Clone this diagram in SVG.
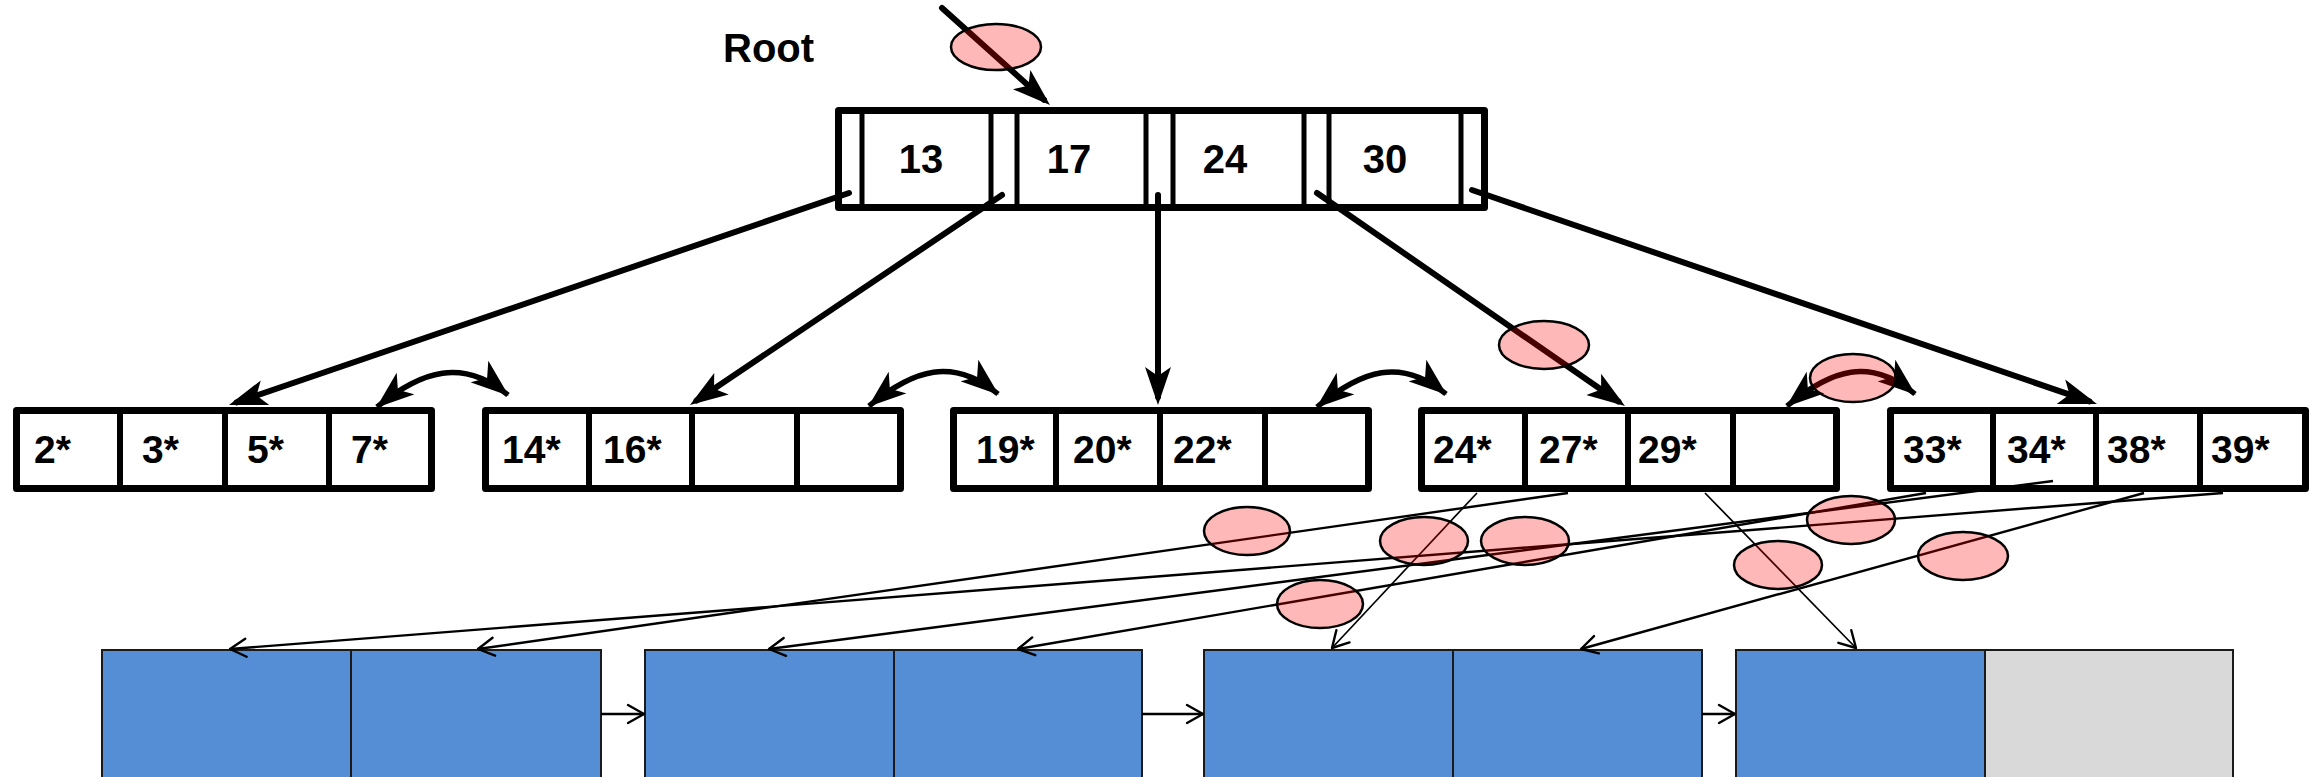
<svg xmlns="http://www.w3.org/2000/svg" width="2316" height="777" viewBox="0 0 2316 777">
<style>
  .node { fill: #fff; stroke: #000; stroke-width: 7; stroke-linejoin: round; }
  .div { stroke: #000; stroke-width: 6; }
  .rdiv { stroke: #000; stroke-width: 5; }
  .key { font-family: "Liberation Sans", Arial, sans-serif; font-weight: bold; font-size: 40px; fill: #000; }
  .lk { font-family: "Liberation Sans", Arial, sans-serif; font-weight: bold; font-size: 39px; fill: #000; }
  .label { font-family: "Liberation Sans", Arial, sans-serif; font-weight: bold; font-size: 40px; fill: #000; }
  .thick { fill: none; stroke: #000; stroke-width: 6; stroke-linecap: round; }
  .arc { fill: none; stroke: #000; stroke-width: 5.5; }
  .thin { fill: none; stroke: #000; stroke-width: 2.4; }
  .thinner { fill: none; stroke: #000; stroke-width: 1.7; }
  .blue { fill: #558ED5; stroke: #1a1a1a; stroke-width: 2; }
  .gray { fill: #D9D9D9; stroke: #1a1a1a; stroke-width: 2; }
  .mark { fill: #ff0000; fill-opacity: 0.28; stroke: #000; stroke-width: 2.5; }
</style>
<defs>
  <marker id="stealth" viewBox="0 0 38 26" refX="30" refY="13" markerWidth="38" markerHeight="26" markerUnits="userSpaceOnUse" orient="auto">
    <path d="M0,0 L38,13 L0,26 L9,13 Z" fill="#000"/>
  </marker>
  <marker id="stealthArc" viewBox="0 0 38 28" refX="37" refY="14" markerWidth="38" markerHeight="28" markerUnits="userSpaceOnUse" orient="auto-start-reverse">
    <path d="M0,0 L38,14 L0,28 L10,14 Z" fill="#000"/>
  </marker>
  <marker id="open" viewBox="-3 -3 22 24" refX="16" refY="9" markerWidth="22" markerHeight="24" markerUnits="userSpaceOnUse" orient="auto">
    <path d="M0,0 L16,9 L0,18" fill="none" stroke="#000" stroke-width="2.4" stroke-linejoin="round" stroke-linecap="round"/>
  </marker>
</defs>
<rect width="2316" height="777" fill="#fff"/>

<!-- data pages -->
<g id="data1">
  <rect class="blue" x="102" y="650" width="249" height="200"/>
  <rect class="blue" x="351" y="650" width="250" height="200"/>
</g>
<g id="data2">
  <rect class="blue" x="645" y="650" width="249" height="200"/>
  <rect class="blue" x="894" y="650" width="248" height="200"/>
</g>
<g id="data3">
  <rect class="blue" x="1204" y="650" width="249" height="200"/>
  <rect class="blue" x="1453" y="650" width="249" height="200"/>
</g>
<g id="data4">
  <rect class="blue" x="1736" y="650" width="249" height="200"/>
  <rect class="gray" x="1985" y="650" width="248" height="200"/>
</g>

<text class="label" x="723" y="62">Root</text>

<g id="root">
  <rect class="node" x="838.5" y="110.5" width="646" height="97"/>
  <line class="rdiv" x1="862" y1="110" x2="862" y2="208"/>
  <line class="rdiv" x1="991" y1="110" x2="991" y2="208"/>
  <line class="rdiv" x1="1017" y1="110" x2="1017" y2="208"/>
  <line class="rdiv" x1="1146" y1="110" x2="1146" y2="208"/>
  <line class="rdiv" x1="1173" y1="110" x2="1173" y2="208"/>
  <line class="rdiv" x1="1304" y1="110" x2="1304" y2="208"/>
  <line class="rdiv" x1="1329" y1="110" x2="1329" y2="208"/>
  <line class="rdiv" x1="1461" y1="110" x2="1461" y2="208"/>
  <text class="key" x="921" y="173" text-anchor="middle">13</text>
  <text class="key" x="1069" y="173" text-anchor="middle">17</text>
  <text class="key" x="1225" y="173" text-anchor="middle">24</text>
  <text class="key" x="1385" y="173" text-anchor="middle">30</text>
</g>

<g id="leaf1">
  <rect class="node" x="16.5" y="410.5" width="415" height="78"/>
  <line class="div" x1="120" y1="410" x2="120" y2="489"/>
  <line class="div" x1="225" y1="410" x2="225" y2="489"/>
  <line class="div" x1="329" y1="410" x2="329" y2="489"/>
  <text class="lk" x="34" y="463">2*</text>
  <text class="lk" x="142" y="463">3*</text>
  <text class="lk" x="247" y="463">5*</text>
  <text class="lk" x="351" y="463">7*</text>
</g>
<g id="leaf2">
  <rect class="node" x="485.5" y="410.5" width="415" height="78"/>
  <line class="div" x1="589" y1="410" x2="589" y2="489"/>
  <line class="div" x1="692" y1="410" x2="692" y2="489"/>
  <line class="div" x1="797" y1="410" x2="797" y2="489"/>
  <text class="lk" x="502" y="463">14*</text>
  <text class="lk" x="603" y="463">16*</text>
</g>
<g id="leaf3">
  <rect class="node" x="953.5" y="410.5" width="415" height="78"/>
  <line class="div" x1="1056" y1="410" x2="1056" y2="489"/>
  <line class="div" x1="1160" y1="410" x2="1160" y2="489"/>
  <line class="div" x1="1265" y1="410" x2="1265" y2="489"/>
  <text class="lk" x="976" y="463">19*</text>
  <text class="lk" x="1073" y="463">20*</text>
  <text class="lk" x="1173" y="463">22*</text>
</g>
<g id="leaf4">
  <rect class="node" x="1421.5" y="410.5" width="415" height="78"/>
  <line class="div" x1="1525" y1="410" x2="1525" y2="489"/>
  <line class="div" x1="1628" y1="410" x2="1628" y2="489"/>
  <line class="div" x1="1733" y1="410" x2="1733" y2="489"/>
  <text class="lk" x="1433" y="463">24*</text>
  <text class="lk" x="1539" y="463">27*</text>
  <text class="lk" x="1638" y="463">29*</text>
</g>
<g id="leaf5">
  <rect class="node" x="1890.5" y="410.5" width="415" height="78"/>
  <line class="div" x1="1993" y1="410" x2="1993" y2="489"/>
  <line class="div" x1="2096" y1="410" x2="2096" y2="489"/>
  <line class="div" x1="2200" y1="410" x2="2200" y2="489"/>
  <text class="lk" x="1903" y="463">33*</text>
  <text class="lk" x="2007" y="463">34*</text>
  <text class="lk" x="2107" y="463">38*</text>
  <text class="lk" x="2211" y="463">39*</text>
</g>

<g id="connectors">
  <!-- root pointer -->
  <line class="thick" x1="942" y1="8" x2="1044" y2="99.7" marker-end="url(#stealth)"/>
  <!-- root to leaves -->
  <line class="thick" x1="849" y1="193" x2="236.6" y2="402.4" marker-end="url(#stealth)"/>
  <line class="thick" x1="1002" y1="195" x2="696.6" y2="400.5" marker-end="url(#stealth)"/>
  <line class="thick" x1="1158" y1="195" x2="1158" y2="397" marker-end="url(#stealth)"/>
  <line class="thick" x1="1317" y1="193" x2="1618.4" y2="401.5" marker-end="url(#stealth)"/>
  <line class="thick" x1="1472" y1="190" x2="2089.4" y2="401.4" marker-end="url(#stealth)"/>
  <!-- sibling links -->
  <path class="arc" d="M377,407 C422,370 463,358 508,395" marker-start="url(#stealthArc)" marker-end="url(#stealthArc)"/>
  <path class="arc" d="M869,406 C914,369 953,357 998,394" marker-start="url(#stealthArc)" marker-end="url(#stealthArc)"/>
  <path class="arc" d="M1317,407 C1362,370 1401,357 1446,394" marker-start="url(#stealthArc)" marker-end="url(#stealthArc)"/>
  <path class="arc" d="M1787,406 C1832,369 1870,357 1915,394" marker-start="url(#stealthArc)" marker-end="url(#stealthArc)"/>
  <!-- data entry pointers -->
  <line class="thin" x1="2223" y1="493" x2="230" y2="649" marker-end="url(#open)"/>
  <line class="thin" x1="1568" y1="493" x2="478" y2="649" marker-end="url(#open)"/>
  <line class="thin" x1="2053" y1="481" x2="769" y2="649" marker-end="url(#open)"/>
  <line class="thin" x1="1926" y1="493" x2="1018" y2="649" marker-end="url(#open)"/>
  <line class="thinner" x1="1477" y1="493" x2="1332" y2="648" marker-end="url(#open)"/>
  <line class="thin" x1="2144" y1="493" x2="1581" y2="649" marker-end="url(#open)"/>
  <line class="thinner" x1="1705" y1="493" x2="1856" y2="648" marker-end="url(#open)"/>
  <!-- page links -->
  <line class="thin" x1="601" y1="714" x2="644" y2="714" marker-end="url(#open)"/>
  <line class="thin" x1="1142" y1="714" x2="1203" y2="714" marker-end="url(#open)"/>
  <line class="thin" x1="1702" y1="714" x2="1735" y2="714" marker-end="url(#open)"/>
</g>

<g id="marks">
  <ellipse class="mark" cx="996" cy="47" rx="45" ry="23"/>
  <ellipse class="mark" cx="1544" cy="345" rx="45" ry="24"/>
  <ellipse class="mark" cx="1853" cy="378" rx="43" ry="24"/>
  <ellipse class="mark" cx="1247" cy="531" rx="43" ry="24"/>
  <ellipse class="mark" cx="1424" cy="541" rx="44" ry="24"/>
  <ellipse class="mark" cx="1525" cy="541" rx="44" ry="24"/>
  <ellipse class="mark" cx="1320" cy="604" rx="43" ry="24"/>
  <ellipse class="mark" cx="1851" cy="520" rx="44" ry="24"/>
  <ellipse class="mark" cx="1778" cy="565" rx="44" ry="24"/>
  <ellipse class="mark" cx="1963" cy="556" rx="45" ry="24"/>
</g>
</svg>
